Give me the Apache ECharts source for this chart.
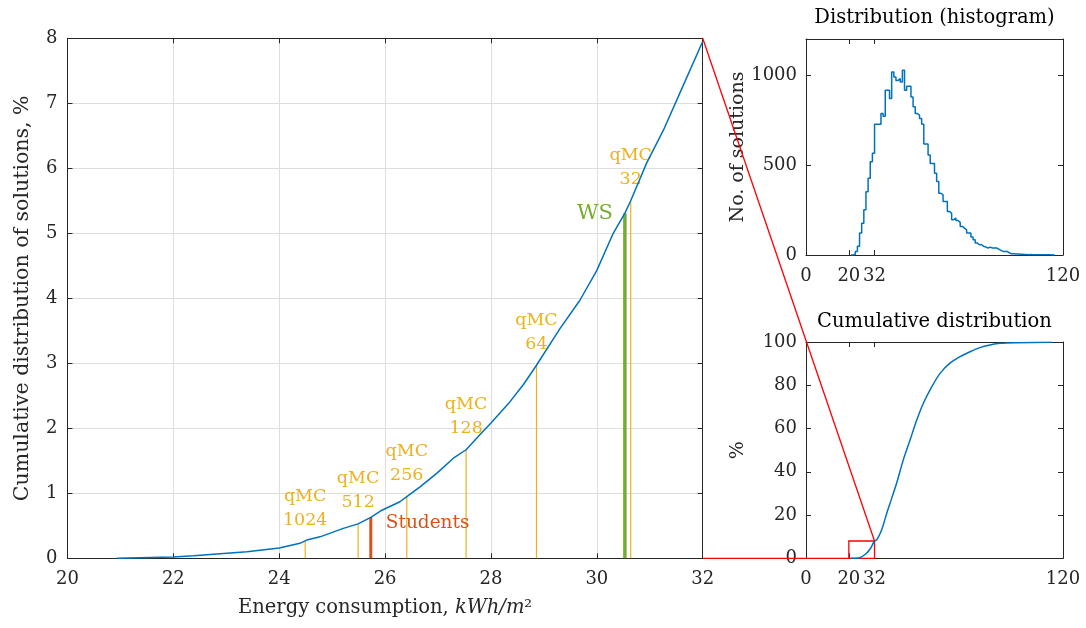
<!DOCTYPE html>
<html><head><meta charset="utf-8">
<script src="https://cdn.jsdelivr.net/npm/echarts@6/dist/echarts.min.js"></script>
<style>html,body{margin:0;padding:0;background:#fff}#c{width:1086px;height:628px}</style>
</head><body><div id="c"></div><script>
// ---- data ----
const mainX = [20.93, 22.0, 22.38, 23.39, 24.0, 24.39, 24.52, 24.77, 25.21, 25.49, 25.73, 25.94, 26.28, 26.41, 26.66, 26.98, 27.29, 27.53, 27.79, 28.0, 28.33, 28.61, 28.86, 29.30, 29.68, 30.0, 30.31, 30.53, 30.64, 30.94, 31.26, 31.57, 32.0];
const mainY = [0.0, 0.02, 0.04, 0.10, 0.16, 0.23, 0.28, 0.33, 0.46, 0.53, 0.63, 0.74, 0.87, 0.95, 1.10, 1.31, 1.54, 1.67, 1.90, 2.08, 2.38, 2.67, 2.97, 3.53, 3.97, 4.43, 5.00, 5.31, 5.50, 6.08, 6.59, 7.16, 7.95];
const qmcX = [24.49, 25.49, 26.41, 27.53, 28.86, 30.64];
const qmcY = [0.26, 0.53, 0.95, 1.67, 2.97, 5.50];
const qmcNames = ['1024', '512', '256', '128', '64', '32'];
const studentsX = 25.73, studentsY = 0.63;
const wsX = 30.53, wsY = 5.31;
const histStart = 21, histBinWidth = 1;
const histCounts = [0, 3, 20, 48, 122, 177, 251, 352, 426, 518, 565, 727, 727, 727, 786, 771, 915, 915, 869, 1017,
  989, 970, 980, 961, 1026, 915, 937, 937, 878, 823, 786, 777, 758, 727, 616, 616, 555, 509, 509, 454,
  408, 343, 334, 297, 297, 242, 232, 196, 205, 192, 181, 159, 149, 140, 122, 122, 100, 85, 66, 57,
  57, 48, 44, 39, 44, 39, 39, 39, 33, 26, 20, 20, 20, 11, 7, 7, 5, 5, 4, 4,
  3, 3, 2, 3, 2, 2, 2, 1, 2, 1, 1, 1, 1, 0, 1];
const cumX = [21, 25, 28, 30, 32, 33.0, 35.3, 37.7, 40.0, 42.3, 45.4, 48.6, 51.7, 54.8, 58.7, 62.6, 67.2, 71.9, 76.6, 81.2, 85.9, 90.6, 98.4, 114.7];
const cumY = [0, 0.3, 2.1, 4.4, 8.0, 8.5, 13.1, 20.8, 27.7, 34.7, 45.4, 54.7, 63.9, 71.7, 79.3, 85.5, 90.2, 93.2, 95.5, 97.4, 98.6, 99.4, 99.7, 99.9];
const overviewTicks = [0, 20, 32, 120];
const histYTicks = [0, 500, 1000];
const zoomXMin = 20, zoomXMax = 32, zoomYMin = 0, zoomYMax = 8;

// ---- styling ----
const FONT = 'DejaVu Serif';
const AX = '#262626';
const BLUE = '#0072BD', ORANGE = '#D95319', YELLOW = '#EDB120', GREEN = '#77AC30';
const tickLbl = { color: AX, fontSize: 18, fontFamily: FONT, formatter: v => String(v) };

function boxAxis(extra) {
  return Object.assign({
    axisLine: { show: true, onZero: false, lineStyle: { color: AX, width: 1 } },
    axisTick: { show: true, inside: true, length: 5, lineStyle: { color: AX } },
    axisLabel: Object.assign({ show: true }, tickLbl),
    splitLine: { show: false }
  }, extra);
}
function mirror(base) {
  const a = boxAxis(base);
  a.axisLabel = { show: false };
  if (base.customValues) { a.axisTick.customValues = base.customValues; }
  delete a.customValues;
  return a;
}

const chart = echarts.init(document.getElementById('c'), null, { renderer: 'canvas' });

const grids = [
  { left: 67.5, top: 38.3, right: 383.3, bottom: 69.7 },
  { left: 806, top: 39, right: 23, height: 216 },
  { left: 806, top: 342, right: 23, height: 216.3 }
];

const xAxes = [
  boxAxis({ gridIndex: 0, type: 'value', min: zoomXMin, max: zoomXMax, interval: 2, position: 'bottom',
    axisLabel: Object.assign({ margin: 12 }, tickLbl),
    splitLine: { show: true, lineStyle: { color: '#dedede', width: 1 } },
    name: '{a|Energy consumption, }{b|kWh/m}{c|²}', nameLocation: 'middle', nameGap: 40,
    nameTextStyle: { color: AX, fontFamily: FONT, fontSize: 19.5,
      rich: { a: { fontFamily: FONT, fontSize: 19.5, color: AX }, b: { fontFamily: FONT, fontSize: 19.5, fontStyle: 'italic', color: AX }, c: { fontFamily: FONT, fontSize: 19.5, color: AX } } } }),
  mirror({ gridIndex: 0, type: 'value', min: zoomXMin, max: zoomXMax, interval: 2, position: 'top' }),
  boxAxis({ gridIndex: 1, type: 'value', min: 0, max: 120, position: 'bottom',
    axisTick: { show: true, inside: true, length: 5, lineStyle: { color: AX }, customValues: overviewTicks },
    axisLabel: Object.assign({ margin: 12, customValues: overviewTicks }, tickLbl) }),
  Object.assign(mirror({ gridIndex: 1, type: 'value', min: 0, max: 120, position: 'top', customValues: overviewTicks }),
    { name: 'Distribution (histogram)', nameLocation: 'middle', nameGap: 11,
      nameTextStyle: { color: '#000', fontFamily: FONT, fontSize: 19.5, verticalAlign: 'bottom' } }),
  boxAxis({ gridIndex: 2, type: 'value', min: 0, max: 120, position: 'bottom',
    axisTick: { show: true, inside: true, length: 5, lineStyle: { color: AX }, customValues: overviewTicks },
    axisLabel: Object.assign({ margin: 12, customValues: overviewTicks }, tickLbl) }),
  Object.assign(mirror({ gridIndex: 2, type: 'value', min: 0, max: 120, position: 'top', customValues: overviewTicks }),
    { name: 'Cumulative distribution', nameLocation: 'middle', nameGap: 10,
      nameTextStyle: { color: '#000', fontFamily: FONT, fontSize: 19.5, verticalAlign: 'bottom' } })
];

const yAxes = [
  boxAxis({ gridIndex: 0, type: 'value', min: zoomYMin, max: zoomYMax, interval: 1, position: 'left',
    axisLabel: Object.assign({ margin: 10 }, tickLbl),
    splitLine: { show: true, lineStyle: { color: '#dedede', width: 1 } },
    name: 'Cumulative distribution of solutions, %', nameLocation: 'middle', nameGap: 34, nameRotate: 90,
    nameTextStyle: { color: AX, fontFamily: FONT, fontSize: 20.5 } }),
  mirror({ gridIndex: 0, type: 'value', min: zoomYMin, max: zoomYMax, interval: 1, position: 'right' }),
  boxAxis({ gridIndex: 1, type: 'value', min: 0, max: 1200, position: 'left',
    axisTick: { show: true, inside: true, length: 5, lineStyle: { color: AX }, customValues: histYTicks },
    axisLabel: Object.assign({ margin: 9, customValues: histYTicks }, tickLbl),
    name: 'No. of solutions', nameLocation: 'middle', nameGap: 56, nameRotate: 90,
    nameTextStyle: { color: AX, fontFamily: FONT, fontSize: 19 } }),
  mirror({ gridIndex: 1, type: 'value', min: 0, max: 1200, position: 'right', customValues: histYTicks }),
  boxAxis({ gridIndex: 2, type: 'value', min: 0, max: 100, interval: 20, position: 'left',
    axisLabel: Object.assign({ margin: 9 }, tickLbl),
    name: '%', nameLocation: 'middle', nameGap: 58, nameRotate: 90,
    nameTextStyle: { color: AX, fontFamily: FONT, fontSize: 19 } }),
  mirror({ gridIndex: 2, type: 'value', min: 0, max: 100, interval: 20, position: 'right' })
];

const series = [];
series.push({ type: 'line', xAxisIndex: 0, yAxisIndex: 0, data: mainX.map((x, i) => [x, mainY[i]]),
  showSymbol: false, lineStyle: { color: BLUE, width: 1.5 }, z: 5, silent: true, animation: false });

qmcX.forEach((x, i) => {
  series.push({ type: 'line', xAxisIndex: 0, yAxisIndex: 0, symbol: 'circle', symbolSize: 0, showSymbol: true,
    lineStyle: { color: YELLOW, width: 1.2 }, itemStyle: { color: YELLOW }, z: 3, animation: false,
    data: [[x, 0], { value: [x, qmcY[i]], label: { show: true, position: 'top', distance: 9,
      formatter: 'qMC\n' + qmcNames[i], color: YELLOW, fontFamily: FONT, fontSize: 17.5, lineHeight: 24, align: 'center' } }] });
});
series.push({ type: 'line', xAxisIndex: 0, yAxisIndex: 0, symbol: 'circle', symbolSize: 0, showSymbol: true,
  lineStyle: { color: ORANGE, width: 3 }, itemStyle: { color: ORANGE }, z: 4, animation: false,
  data: [[studentsX, 0], { value: [studentsX, studentsY], label: { show: true, position: 'right', distance: 15, offset: [0, 6],
    formatter: 'Students', color: ORANGE, fontFamily: FONT, fontSize: 18.5 } }] });
series.push({ type: 'line', xAxisIndex: 0, yAxisIndex: 0, symbol: 'circle', symbolSize: 0, showSymbol: true,
  lineStyle: { color: GREEN, width: 3.5 }, itemStyle: { color: GREEN }, z: 4, animation: false,
  data: [[wsX, 0], { value: [wsX, wsY], label: { show: true, position: 'left', distance: 12,
    formatter: 'WS', color: GREEN, fontFamily: FONT, fontSize: 21 } }] });

// histogram as stairs: points at bin left edges, final closing edge
const histData = [[histStart, 0]];
histCounts.forEach((c, i) => histData.push([histStart + i * histBinWidth, c]));
histData.push([histStart + histCounts.length * histBinWidth, 0]);
series.push({ type: 'line', xAxisIndex: 2, yAxisIndex: 2, step: 'end', data: histData, showSymbol: false,
  lineStyle: { color: BLUE, width: 1.5 }, animation: false, silent: true });

series.push({ type: 'line', xAxisIndex: 4, yAxisIndex: 4, data: cumX.map((x, i) => [x, cumY[i]]), showSymbol: false,
  smooth: 0.3, lineStyle: { color: BLUE, width: 1.5 }, animation: false, silent: true, z: 4,
  markArea: { silent: true, itemStyle: { color: 'rgba(0,0,0,0)', borderColor: '#FF0000', borderWidth: 1.3 },
    data: [[{ coord: [zoomXMin, zoomYMin] }, { coord: [zoomXMax, zoomYMax] }]] } });

chart.setOption({ animation: false, backgroundColor: '#fff', grid: grids, xAxis: xAxes, yAxis: yAxes, series: series });

// connector lines from the zoomed main view to the box in the overview
const pTopMain = chart.convertToPixel({ xAxisIndex: 0, yAxisIndex: 0 }, [zoomXMax, zoomYMax]);
const pBotMain = chart.convertToPixel({ xAxisIndex: 0, yAxisIndex: 0 }, [zoomXMax, zoomYMin]);
const pTopCum = chart.convertToPixel({ xAxisIndex: 4, yAxisIndex: 4 }, [zoomXMax, zoomYMax]);
const pBotCum = chart.convertToPixel({ xAxisIndex: 4, yAxisIndex: 4 }, [zoomXMin, zoomYMin]);
chart.setOption({ graphic: [
  { type: 'line', shape: { x1: pTopMain[0], y1: pTopMain[1], x2: pTopCum[0], y2: pTopCum[1] }, style: { stroke: '#FF0000', lineWidth: 1.3 }, z: 100 },
  { type: 'line', shape: { x1: pBotMain[0], y1: pBotMain[1], x2: pBotCum[0], y2: pBotCum[1] }, style: { stroke: '#FF0000', lineWidth: 1.3 }, z: 100 }
] });
</script></body></html>
